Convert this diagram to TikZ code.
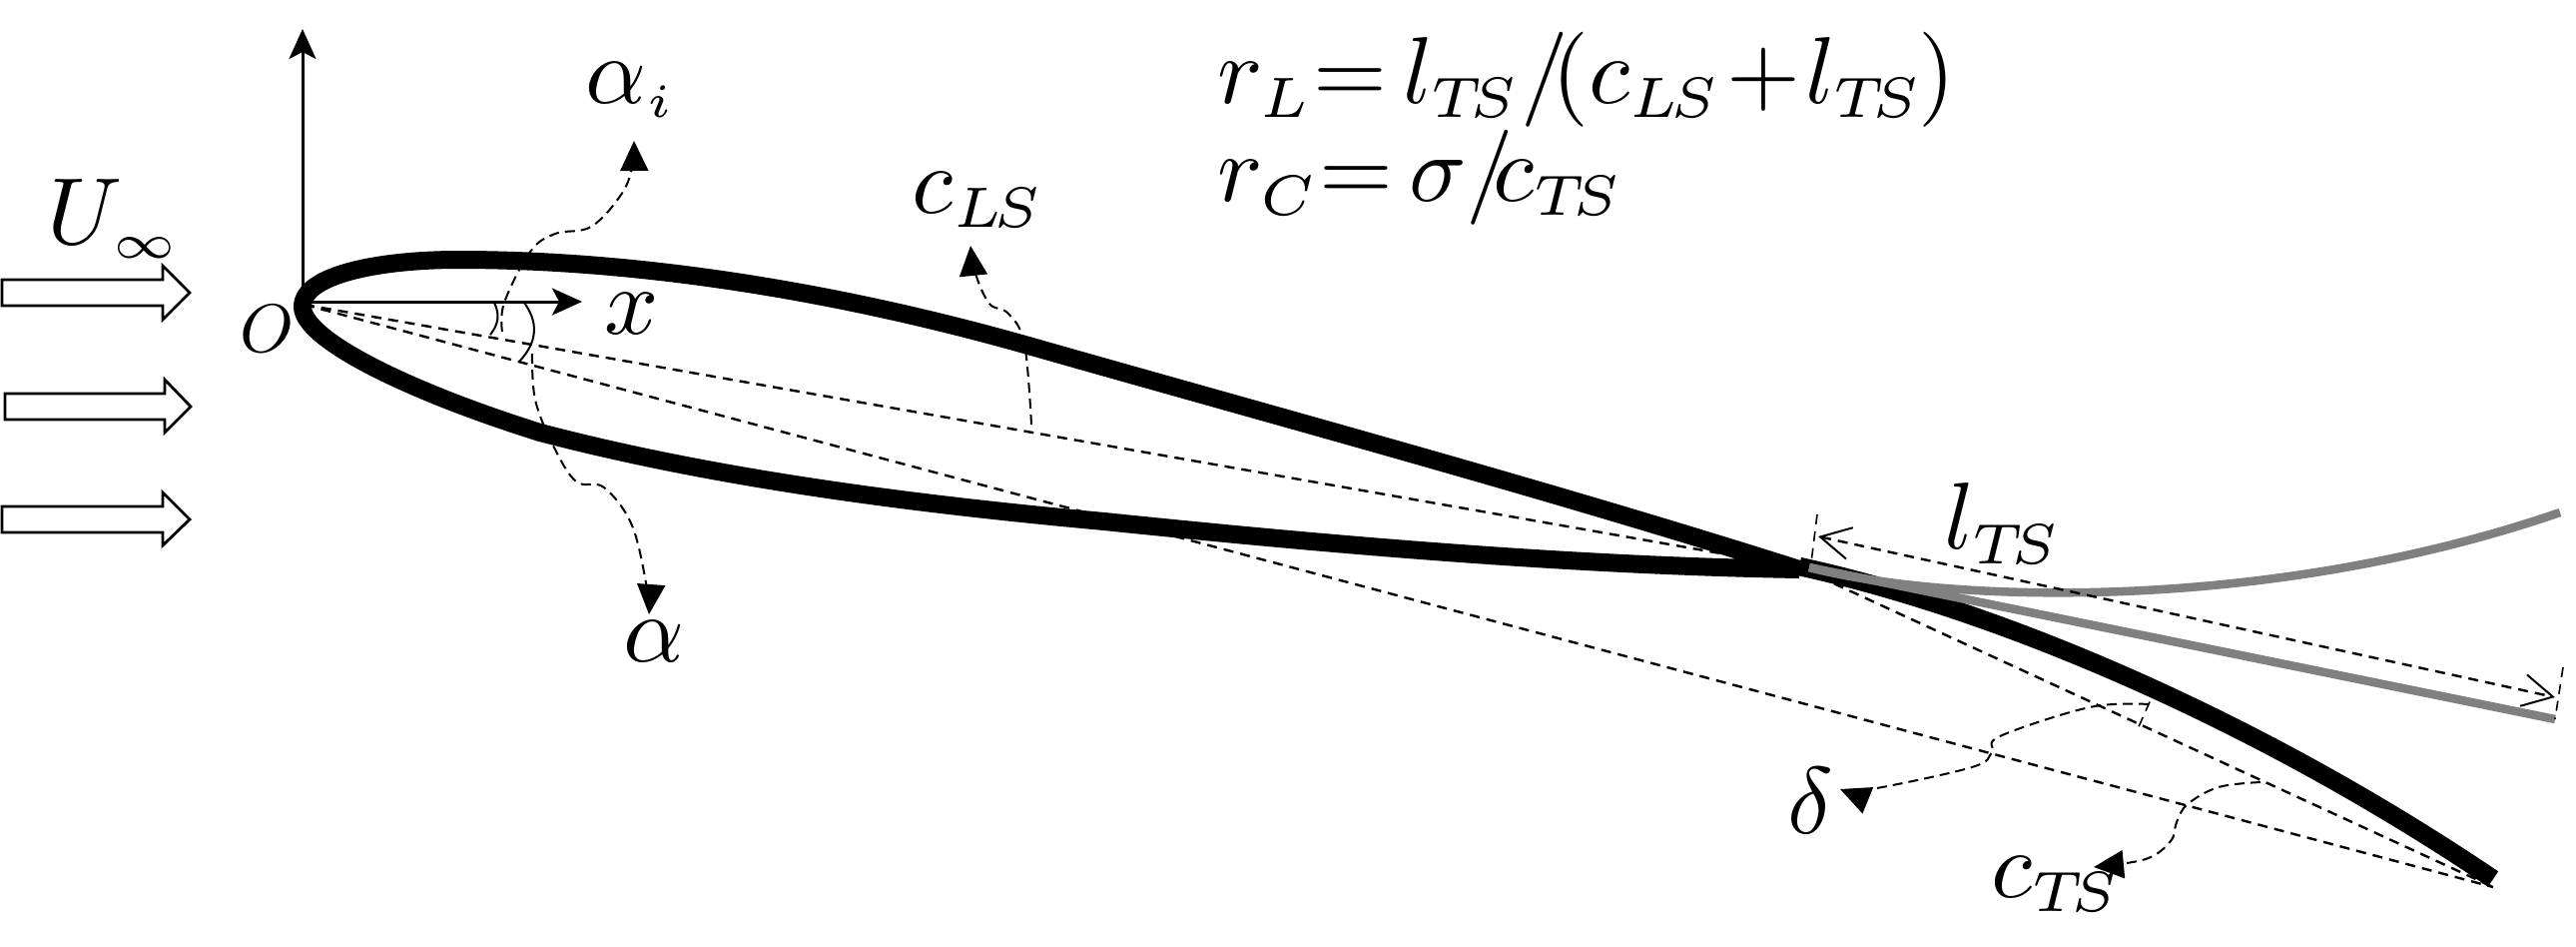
\documentclass[tikz,border=0pt]{standalone}
\usetikzlibrary{arrows.meta}
\DeclareMathSizes{10}{10}{6}{5}
\newcommand{\TSsub}{{T\mkern-3mu S}}
\newcommand{\LSsub}{{L\mkern-2mu S}}
\tikzset{
  foil/.style={line width=0.18cm,line join=miter,miter limit=30},
  tailfoil/.style={line width=0.185cm},
  tailgray/.style={line width=0.085cm,color=black!50},
  axisline/.style={line width=0.03cm,-{Stealth[length=0.3cm,width=0.27cm,inset=0.07cm]}},
  flow/.style={draw=black,line width=0.028cm,fill=white,line join=miter},
  chord/.style={line width=0.024cm,dash pattern=on 0.1cm off 0.07cm},
  thindash/.style={line width=0.016cm,dash pattern=on 0.1cm off 0.07cm},
  leader/.style={line width=0.02cm,dash pattern=on 0.1cm off 0.06cm,-{Triangle[length=0.3cm,width=0.28cm]}},
  dimline/.style={line width=0.024cm,dash pattern=on 0.1cm off 0.07cm,{Straight Barb[length=0.3cm,width=0.32cm,line width=0.02cm]}-{Straight Barb[length=0.3cm,width=0.32cm,line width=0.02cm]}},
  anglearc/.style={line width=0.02cm},
  lab/.style={inner sep=0pt,scale=2.7},
}
\begin{document}
\begin{tikzpicture}[x=0.01cm,y=-0.01cm]
\useasboundingbox (0,0) rectangle (2580,948);
\coordinate (O) at (305,305);
\coordinate (TE) at (1806,570);
\coordinate (CLS) at (1752,559);
\coordinate (TEnd) at (2497,888);
\coordinate (AxY) at (303,29);
\coordinate (AxX) at (583,302);
\coordinate (AxO) at (303,302);
% flow arrows
\path[flow] (2,280) -- (163,280) -- (163,266) -- (190,293) -- (163,320) -- (163,306) -- (2,306) -- cycle;
\path[flow] (5,394) -- (165,394) -- (165,380) -- (191,407) -- (165,433) -- (165,420) -- (5,420) -- cycle;
\path[flow] (2,507) -- (163,507) -- (163,493) -- (190,520) -- (163,546) -- (163,533) -- (2,533) -- cycle;
% axes
\draw[axisline] (AxO) -- (AxY);
\draw[axisline] (AxO) -- (AxX);
% chords
\draw[chord] (O) -- (CLS);
\draw[chord] (O) -- (TEnd);
\draw[chord] (TE) -- (TEnd);
% airfoil
\draw[foil] (1802,570) .. controls (1550,490) and (1290,420) .. (1030,346)
  .. controls (850,295) and (650,260) .. (459,260)
  .. controls (380,260) and (303,275) .. (303,307)
  .. controls (303,340) and (410,392) .. (541,433)
  .. controls (720,480) and (920,505) .. (1106,522)
  .. controls (1330,545) and (1570,566) .. (1802,570);
\draw[tailfoil] (1802,567) .. controls (2000,610) and (2260,720) .. (2497,880);
% gray tail
\draw[tailgray] (1812,568) -- (2559,720);
\draw[tailgray] (1812,568) .. controls (1950,604) and (2270,614) .. (2564,513);
% dimension
\draw[thindash] (1820,515) -- (1814,563);
\draw[thindash] (2567,668) -- (2559,720);
\coordinate (LA) at (1821,537);
\coordinate (LB) at (2559,698);
\draw[dimline] (LA) -- (LB);
\draw[thindash] (2160,687) -- (2140,732);
% angles
\draw[anglearc] (495,303) .. controls (501,315) and (499,325) .. (491,335);
\draw[anglearc] (525,303) .. controls (539,322) and (539,342) .. (520,362);
% leaders
\draw[leader] plot[smooth,tension=0.6] coordinates {(503,332) (505,303) (531,252) (556,234) (592,227) (622,195) (633,168) (635,141)};
\draw[leader] plot[smooth,tension=0.6] coordinates {(533,354) (536,400) (554,446) (577,482) (605,488) (633,526) (648,589) (650,615)};
\draw[leader] plot[smooth,tension=0.6] coordinates {(1033,425) (1026,344) (1010,314) (991,304) (977,274) (972,246)};
\draw[leader] plot[smooth,tension=0.6] coordinates {(2152,705) (2093,708) (2003,737) (1995,753) (1975,768) (1874,790) (1843,790)};
\draw[leader] plot[smooth,tension=0.6] coordinates {(2264,783) (2222,788) (2191,805) (2180,823) (2174,842) (2149,860) (2097,868)};
% labels
\node[lab] (Uinf) at (115,219) {$U_{\scriptscriptstyle\infty}$};
\node[lab,scale=0.72] (Olab) at (268,329) {$O$};
\node[lab] (xlab) at (633,314) {$x$};
\node[lab] (ai) at (632,90) {$\alpha_{\scriptscriptstyle i}$};
\node[lab] (al) at (655,642) {$\alpha$};
\node[lab] (cls) at (980,200) {$c_\LSsub$};
\node[lab] (lts) at (2006,524) {$l_\TSsub$};
\node[lab] (del) at (1813,802) {$\delta$};
\node[lab] (cts) at (2060,885) {$c_\TSsub$};
\node[lab,anchor=base west] (rl) at (1218,103) {$r_L{=}\,l_\TSsub/\mkern-3mu(c_\LSsub\mkern1mu{+}\mkern1mu l_\TSsub\mkern-1mu)$};
\node[lab,anchor=base west] (rc) at (1218,201) {$r_C{=}\,\sigma/\mkern-4mu c_\TSsub$};
\end{tikzpicture}
\end{document}
